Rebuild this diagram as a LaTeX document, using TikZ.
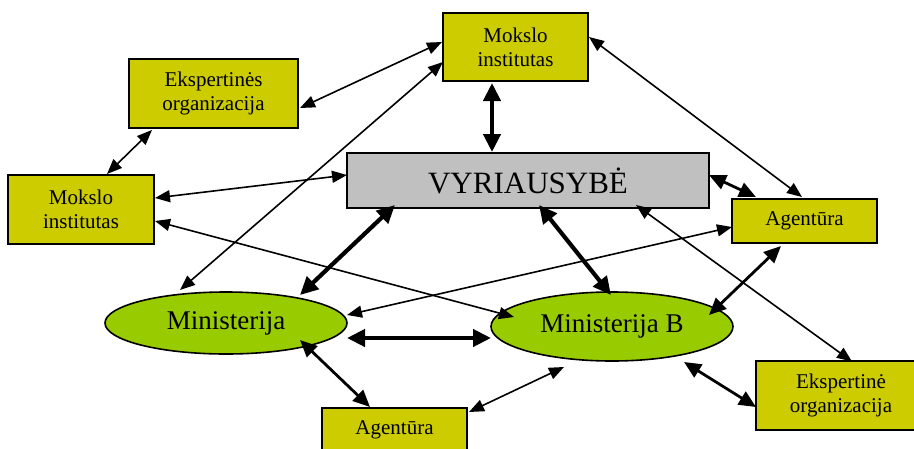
\documentclass[tikz,border=0pt]{standalone}
\usepackage{fontspec}
\setmainfont{Liberation Serif}
\usetikzlibrary{arrows.meta,shapes.geometric,calc}
\definecolor{boxfill}{HTML}{CCCC00}
\definecolor{ellfill}{HTML}{99CC00}
\definecolor{govfill}{HTML}{C0C0C0}
\begin{document}
\begin{tikzpicture}[x=1pt,y=-1pt,
  box/.style={draw,line width=1.6pt,fill=boxfill,align=center,inner sep=0pt,
    font=\fontsize{21}{24}\selectfont},
  gov/.style={draw,line width=1.6pt,fill=govfill,inner sep=0pt,
    font=\fontsize{31}{34}\selectfont},
  ell/.style={draw,ellipse,line width=1.6pt,fill=ellfill,inner sep=0pt,
    font=\fontsize{27}{30}\selectfont},
  thin/.style={line width=1.6pt,
    {Triangle[length=15pt,width=12pt]}-{Triangle[length=15pt,width=12pt]}},
  mid/.style={line width=2.8pt,
    {Triangle[length=17pt,width=15pt]}-{Triangle[length=17pt,width=15pt]}},
  thick/.style={line width=4.2pt,
    {Triangle[length=18pt,width=17pt]}-{Triangle[length=18pt,width=17pt]}}]
\useasboundingbox (0,0) rectangle (914,448);

% organisations
\node[box,minimum width=145pt,minimum height=68pt] (mokTop) at (515.5,47) {Mokslo\\institutas};
\node[box,minimum width=169pt,minimum height=69pt] (eksL) at (213.5,93.5) {Ekspertinės\\organizacija};
\node[box,minimum width=146pt,minimum height=69pt] (mokL) at (81,209.5) {Mokslo\\institutas};
\node[gov,minimum width=362pt,minimum height=55pt] (vyr) at (528,180.5) {VYRIAUSYBĖ};
\node[box,minimum width=145pt,minimum height=44pt] (agR) at (804.5,221) {Agentūra};
\node[ell,minimum width=242pt,minimum height=62pt] (minA) at (226,323) {Ministerija};
\node[ell,minimum width=242pt,minimum height=69pt] (minB) at (612,326.5) {Ministerija B};
\node[box,minimum width=145pt,minimum height=44pt] (agB) at (394.5,430) {Agentūra};
\node[box,minimum width=170pt,minimum height=69pt] (eksR) at (841,395.5) {Ekspertinė\\organizacija};

% links
\draw[thin] ($(eksL)+(86.5,14.5)$) -- ($(mokTop)+(-73.5,-5)$);
\draw[thin] ($(mokTop)+(-72.5,15)$) -- ($(minA)+(-46,-33)$);
\draw[thin] ($(eksL)+(-61.5,36.5)$) -- ($(mokL)+(26,-35.5)$);
\draw[thin] ($(mokL)+(74,-11.5)$) -- ($(vyr)+(-181,-5.5)$);
\draw[thin] ($(mokL)+(74,11.5)$) -- ($(minB)+(-98,-9.5)$);
\draw[thick] ($(vyr)+(-133,24.5)$) -- ($(minA)+(74,-28)$);
\draw[thick] ($(mokTop)+(-23.5,36)$) -- ($(vyr)+(-36,-28.5)$);
\draw[thin] ($(mokTop)+(73.5,-10)$) -- ($(agR)+(-2.5,-24)$);
\draw[mid] ($(vyr)+(181,-5.5)$) -- ($(agR)+(-48.5,-24)$);
\draw[thick] ($(vyr)+(11,24.5)$) -- ($(minB)+(-1,-31.5)$);
\draw[thin] ($(vyr)+(108,24.5)$) -- ($(eksR)+(11,-34)$);
\draw[thin] ($(agR)+(-72.5,6)$) -- ($(minA)+(121,-8)$);
\draw[thick] ($(minA)+(121,15)$) -- ($(minB)+(-121,11.5)$);
\draw[mid] ($(agR)+(-23.5,25)$) -- ($(minB)+(97,-11.5)$);
\draw[mid] ($(minA)+(74,17)$) -- ($(agB)+(-24.5,-23)$);
\draw[thin] ($(agB)+(74.5,-18)$) -- ($(minB)+(-48,40.5)$);
\draw[mid] ($(minB)+(72,35.5)$) -- ($(eksR)+(-85,11.5)$);
\end{tikzpicture}
\end{document}
